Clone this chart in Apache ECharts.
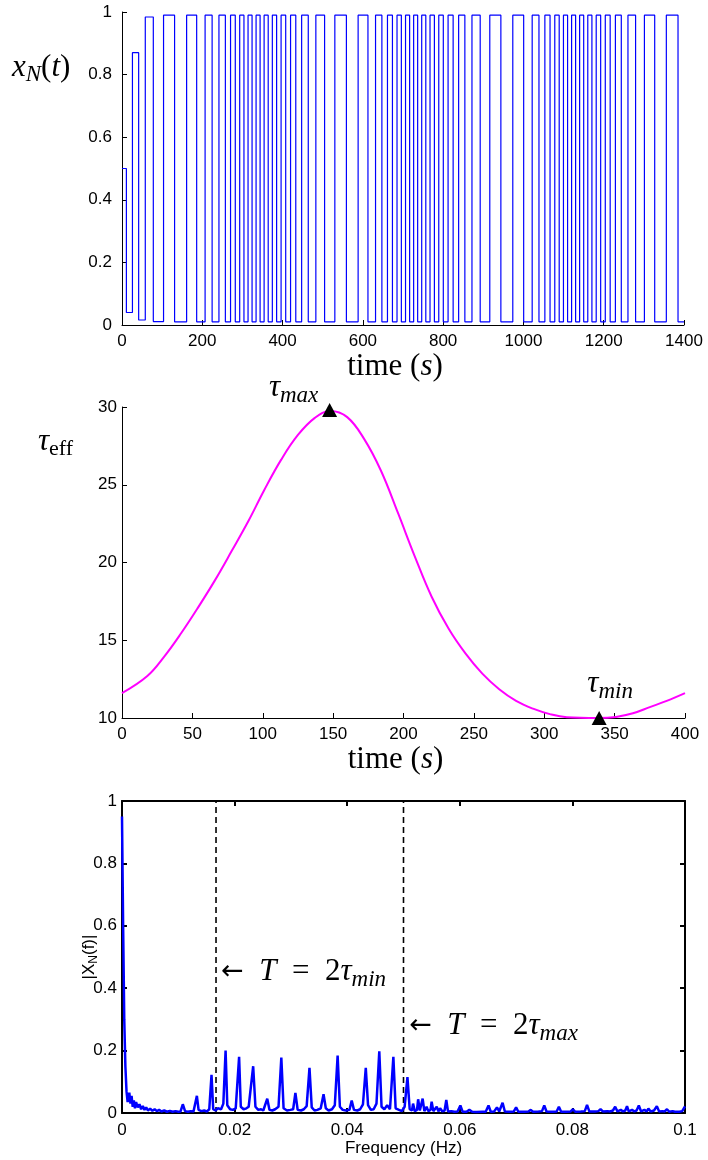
<!DOCTYPE html>
<html><head><meta charset="utf-8">
<script src="https://cdn.jsdelivr.net/npm/echarts@6/dist/echarts.min.js"></script>
<style>html,body{margin:0;padding:0;background:#fff}#c{width:708px;height:1160px}</style>
</head><body><div id="c"></div>
<script>
// ---- Top panel: x_N(t) square wave (edge times in s and level after each edge)
const edgeTimes = [0,10.9,26,41.5,58,78,103.5,131,161,186,207,224.5,241.5,257.5,270.4,282.2,293.2,303.8,314,324,334,344,354,364.2,374.5,385.2,396.3,407.8,419.9,432.9,447.5,464,482.9,504.7,530.2,559,588.2,612.7,631.6,647.4,661.3,673.7,685.1,695.9,706.3,716.5,726.5,736.5,746.6,756.8,767.3,778.2,789.1,800.4,812.3,824.9,838.6,854.1,871.8,892.3,916.2,943.8,973.5,1000.6,1021.8,1038.7,1053.4,1066.3,1078.1,1089.1,1099.7,1110,1120,1130,1140,1150.1,1160.3,1170.6,1181.3,1192.4,1203.9,1216.1,1229.1,1243.8,1260.4,1279.4,1301.4,1327,1356,1385.1,1400];
const edgeLevels = [0.5,0.04,0.87,0.016,0.984,0.011,0.99,0.01,0.99,0.01,0.99,0.01,0.99,0.01,0.99,0.01,0.99,0.01,0.99,0.01,0.99,0.01,0.99,0.01,0.99,0.01,0.99,0.01,0.99,0.01,0.99,0.01,0.99,0.01,0.99,0.01,0.99,0.01,0.99,0.01,0.99,0.01,0.99,0.01,0.99,0.01,0.99,0.01,0.99,0.01,0.99,0.01,0.99,0.01,0.99,0.01,0.99,0.01,0.99,0.01,0.99,0.01,0.99,0.01,0.99,0.01,0.99,0.01,0.99,0.01,0.99,0.01,0.99,0.01,0.99,0.01,0.99,0.01,0.99,0.01,0.99,0.01,0.99,0.01,0.99,0.01,0.99,0.01,0.99,0.01,0.01];

// ---- Middle panel: tau_eff(t)
const tauTimes  = [0,18,30,42,54,66,78,90,101,113,125,137,148,160,172,184,196,208,220,232,244,256,268,280,292,304,316,338,351,363,375,387,400];
const tauValues = [11.6,12.7,13.95,15.45,17.1,18.85,20.75,22.7,24.65,26.6,28.2,29.3,29.75,29.35,27.95,25.9,23.2,20.4,17.8,15.75,14.15,12.85,11.85,11.1,10.6,10.25,10.05,10.0,10.07,10.3,10.7,11.1,11.6];
const tauMaxPoint = [147.5, 29.8];
const tauMinPoint = [339, 10.0];

// ---- Bottom panel: |X_N(f)| spectrum [frequency Hz, magnitude]
const specPoints = [
[0,0.95],[0.0002,0.6],[0.0004,0.3],[0.0006,0.15],[0.0008,0.07],[0.001,0.035],[0.0013,0.065],[0.0015,0.03],[0.0017,0.055],[0.0019,0.02],
[0.0021,0.04],[0.0023,0.015],[0.0025,0.035],[0.0028,0.018],[0.0031,0.028],[0.0034,0.012],[0.0037,0.022],[0.004,0.01],[0.0043,0.018],[0.0046,0.008],
[0.005,0.014],[0.0054,0.007],[0.0058,0.012],[0.0062,0.006],[0.0066,0.01],[0.007,0.005],[0.0075,0.008],[0.008,0.004],[0.0085,0.007],[0.009,0.004],
[0.0095,0.006],[0.01,0.004],[0.0104,0.005],[0.0108,0.028],[0.0112,0.006],[0.0117,0.004],[0.0122,0.006],[0.0127,0.005],[0.013,0.008],[0.0133,0.055],
[0.0136,0.01],[0.0141,0.006],[0.0146,0.008],[0.0151,0.005],[0.0155,0.012],[0.0159,0.122],[0.0162,0.012],[0.0166,0.008],[0.017,0.015],[0.0176,0.012],
[0.018,0.03],[0.0184,0.2],[0.0187,0.025],[0.0192,0.012],[0.0197,0.01],[0.0202,0.015],[0.0208,0.18],[0.0211,0.02],[0.0216,0.012],[0.0221,0.015],
[0.0225,0.02],[0.0233,0.15],[0.0237,0.02],[0.0242,0.01],[0.0247,0.012],[0.0251,0.008],[0.0258,0.046],[0.0262,0.01],[0.0267,0.008],[0.0272,0.012],
[0.0278,0.02],[0.0283,0.178],[0.0287,0.015],[0.0293,0.008],[0.0299,0.01],[0.0304,0.012],[0.0308,0.064],[0.0312,0.01],[0.0318,0.008],[0.0323,0.012],
[0.0328,0.022],[0.0333,0.145],[0.0337,0.018],[0.0342,0.008],[0.0347,0.01],[0.0353,0.015],[0.0358,0.06],[0.0362,0.015],[0.0367,0.008],[0.0373,0.012],
[0.0378,0.025],[0.0383,0.184],[0.0387,0.02],[0.0392,0.01],[0.0398,0.008],[0.0404,0.01],[0.0408,0.04],[0.0412,0.01],[0.0418,0.008],[0.0423,0.012],
[0.0428,0.028],[0.0433,0.145],[0.0437,0.025],[0.0442,0.01],[0.0447,0.012],[0.0452,0.03],[0.0457,0.198],[0.0461,0.02],[0.0466,0.012],[0.0471,0.025],
[0.0476,0.012],[0.0482,0.18],[0.0486,0.015],[0.0492,0.01],[0.0497,0.006],[0.0502,0.02],[0.0507,0.115],[0.0511,0.012],[0.0515,0.008],[0.0517,0.03],
[0.052,0.006],[0.0524,0.01],[0.0526,0.044],[0.0529,0.008],[0.0532,0.01],[0.0534,0.046],[0.0537,0.006],[0.0541,0.02],[0.0544,0.006],[0.0548,0.01],
[0.055,0.036],[0.0553,0.006],[0.0559,0.02],[0.0562,0.005],[0.0565,0.015],[0.0569,0.005],[0.0573,0.008],[0.0576,0.042],[0.0579,0.005],[0.0585,0.006],
[0.059,0.004],[0.0596,0.005],[0.0601,0.024],[0.0605,0.004],[0.0612,0.004],[0.0617,0.01],[0.0622,0.004],[0.063,0.003],[0.064,0.004],[0.0646,0.004],
[0.0651,0.024],[0.0655,0.004],[0.0661,0.005],[0.0666,0.018],[0.067,0.005],[0.0676,0.033],[0.068,0.005],[0.069,0.004],[0.0696,0.005],[0.07,0.018],
[0.0704,0.004],[0.0715,0.004],[0.0722,0.005],[0.0726,0.01],[0.073,0.004],[0.074,0.005],[0.0746,0.006],[0.075,0.024],[0.0754,0.005],[0.0765,0.004],
[0.0772,0.005],[0.0776,0.02],[0.078,0.004],[0.079,0.004],[0.0797,0.005],[0.0801,0.012],[0.0805,0.004],[0.0815,0.005],[0.0822,0.006],[0.0826,0.026],
[0.083,0.005],[0.084,0.005],[0.0846,0.006],[0.085,0.012],[0.0854,0.005],[0.0862,0.006],[0.0867,0.005],[0.0872,0.008],[0.0876,0.02],[0.088,0.005],
[0.0886,0.01],[0.089,0.005],[0.0894,0.008],[0.0897,0.022],[0.09,0.005],[0.0906,0.01],[0.091,0.005],[0.0914,0.008],[0.0918,0.024],[0.0922,0.005],
[0.0928,0.01],[0.0932,0.005],[0.0935,0.014],[0.0939,0.005],[0.0945,0.008],[0.095,0.022],[0.0954,0.005],[0.096,0.006],[0.0964,0.005],[0.0968,0.012],
[0.0972,0.004],[0.0978,0.006],[0.0982,0.004],[0.0985,0.01],[0.099,0.004],[0.0995,0.006],[0.1,0.021]];
const markFreqs = [0.0167, 0.05];
const annotMin = [0.0176, 0.452];
const annotMax = [0.051, 0.278];

const SERIF = 'Liberation Serif';
const SANS = 'Liberation Sans';
const texRich = {
  i: {fontFamily: SERIF, fontStyle: 'italic', fontSize: 31, lineHeight: 38, color: '#000'},
  r: {fontFamily: SERIF, fontSize: 31, lineHeight: 38, color: '#000'},
  a: {fontFamily: 'DejaVu Sans', fontSize: 27, lineHeight: 38, color: '#000'},
  si: {fontFamily: SERIF, fontStyle: 'italic', fontSize: 23, lineHeight: 22, verticalAlign: 'bottom', color: '#000'},
  sr: {fontFamily: SERIF, fontSize: 22, lineHeight: 22, verticalAlign: 'bottom', color: '#000'}
};
const numFmt = v => String(+(+v).toFixed(6));

function axisBase(o) {
  return Object.assign({
    type: 'value',
    splitLine: {show: false},
    axisLine: {show: true, onZero: false, lineStyle: {color: '#000', width: o.lw || 1}},
    axisTick: {show: true, inside: true, length: 5, lineStyle: {color: '#000', width: o.lw || 1}},
    axisLabel: {show: o.labels !== false, color: '#000', fontSize: 17, fontFamily: SANS, margin: o.margin || 8, formatter: numFmt},
  }, o.extra || {});
}

const squareData = edgeTimes.map((t, i) => [t, edgeLevels[i]]);
const tauData = tauTimes.map((t, i) => [t, tauValues[i]]);

const option = {
  animation: false,
  backgroundColor: '#fff',
  grid: [
    {left: 122, top: 12, width: 562, height: 313},
    {left: 122, top: 407, width: 563, height: 311},
    {left: 122, top: 801, width: 563, height: 312}
  ],
  xAxis: [
    axisBase({margin: 8, extra: {gridIndex: 0, min: 0, max: 1400, interval: 200,
      name: '{r|time (}{i|s}{r|)}', nameLocation: 'middle', nameGap: 18,
      nameTextStyle: {rich: texRich, padding: [0, 16, 0, 0]}}}),
    axisBase({margin: 8, extra: {gridIndex: 1, min: 0, max: 400, interval: 50,
      name: '{r|time (}{i|s}{r|)}', nameLocation: 'middle', nameGap: 21,
      nameTextStyle: {rich: texRich, padding: [0, 16, 0, 0]}}}),
    axisBase({margin: 9, lw: 2, extra: {gridIndex: 2, min: 0, max: 0.1, interval: 0.02,
      name: 'Frequency (Hz)', nameLocation: 'middle', nameGap: 24,
      nameTextStyle: {fontFamily: SANS, fontSize: 17, color: '#000'}}}),
    axisBase({labels: false, lw: 2, extra: {gridIndex: 2, position: 'top', min: 0, max: 0.1, interval: 0.02}})
  ],
  yAxis: [
    axisBase({margin: 10, extra: {gridIndex: 0, min: 0, max: 1, interval: 0.2}}),
    axisBase({margin: 5, extra: {gridIndex: 1, min: 10, max: 30, interval: 5}}),
    axisBase({margin: 5, lw: 2, extra: {gridIndex: 2, min: 0, max: 1, interval: 0.2,
      name: '|X{sub|N}(f)|', nameLocation: 'middle', nameGap: 22, nameMoveOverlap: false,
      nameTextStyle: {fontFamily: SANS, fontSize: 17, color: '#000', lineHeight: 22,
        rich: {sub: {fontFamily: SANS, fontSize: 12, lineHeight: 12, verticalAlign: 'bottom', color: '#000'}}}}}),
    axisBase({labels: false, lw: 2, extra: {gridIndex: 2, position: 'right', min: 0, max: 1, interval: 0.2}})
  ],
  graphic: [
    {type: 'text', left: 12, top: 52, style: {text: '{i|x}{si|N}{r|(}{i|t}{r|)}', rich: texRich}},
    {type: 'text', left: 38, top: 426, style: {text: '{i|τ}{sr|eff}', rich: texRich}}
  ],
  series: [
    {type: 'line', xAxisIndex: 0, yAxisIndex: 0, data: squareData, step: 'end', showSymbol: false,
      lineStyle: {color: '#0000ff', width: 1.2}, z: 3},
    {type: 'line', xAxisIndex: 1, yAxisIndex: 1, data: tauData, smooth: 0.4, showSymbol: false,
      lineStyle: {color: '#ff00ff', width: 2}, z: 3},
    {type: 'scatter', xAxisIndex: 1, yAxisIndex: 1, symbol: 'triangle', symbolSize: [15, 14],
      itemStyle: {color: '#000', opacity: 1}, z: 5,
      data: [
        {value: tauMaxPoint, label: {show: true, position: 'top', distance: 0, offset: [-36, 4],
          formatter: '{i|τ}{si|max}', rich: texRich}},
        {value: tauMinPoint, label: {show: true, position: 'top', distance: 8, offset: [11, 0],
          formatter: '{i|τ}{si|min}', rich: texRich}}
      ]},
    {type: 'line', xAxisIndex: 2, yAxisIndex: 2, data: specPoints, showSymbol: false,
      lineStyle: {color: '#0000ff', width: 2.5}, z: 3},
    {type: 'line', xAxisIndex: 2, yAxisIndex: 2, data: [[markFreqs[0], 0], [markFreqs[0], 1]], showSymbol: false,
      lineStyle: {color: '#000', type: [6, 4], width: 1.6}, z: 2},
    {type: 'line', xAxisIndex: 2, yAxisIndex: 2, data: [[markFreqs[1], 0], [markFreqs[1], 1]], showSymbol: false,
      lineStyle: {color: '#000', type: [6, 4], width: 1.6}, z: 2},
    {type: 'scatter', xAxisIndex: 2, yAxisIndex: 2, symbolSize: 0, z: 6, itemStyle: {opacity: 1},
      data: [
        {value: annotMin, label: {show: true, position: 'right', distance: 0,
          formatter: '{a|←}{r|  }{i|T}{r|  =  2}{i|τ}{si|min}', rich: texRich}},
        {value: annotMax, label: {show: true, position: 'right', distance: 0,
          formatter: '{a|←}{r|  }{i|T}{r|  =  2}{i|τ}{si|max}', rich: texRich}}
      ]}
  ]
};
const chart = echarts.init(document.getElementById('c'));
chart.setOption(option);
</script>
</body></html>
